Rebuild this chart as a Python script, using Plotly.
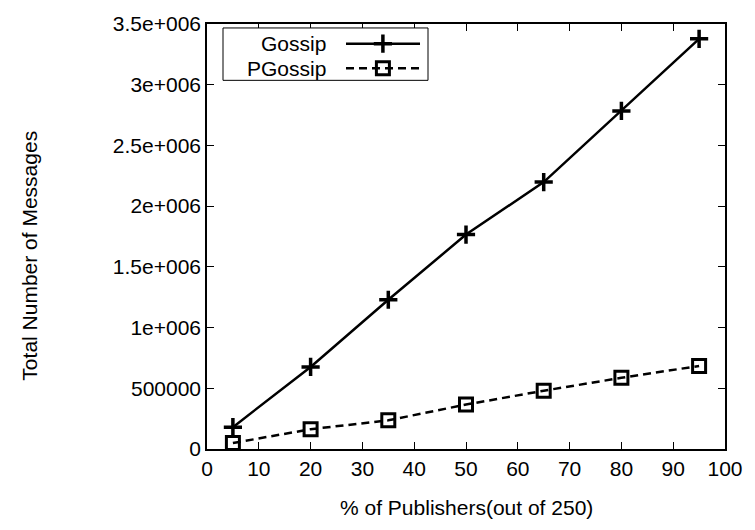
import plotly.graph_objects as go

publishers_pct = [5, 20, 35, 50, 65, 80, 95]
gossip_msgs = [180000, 676000, 1229000, 1766000, 2198000, 2784000, 3378000]
pgossip_msgs = [49000, 163000, 236000, 366000, 480000, 586000, 684000]

y_tick_vals = [0, 500000, 1000000, 1500000, 2000000, 2500000, 3000000, 3500000]
y_tick_text = ["0", "500000", "1e+006", "1.5e+006", "2e+006", "2.5e+006", "3e+006", "3.5e+006"]
x_tick_vals = [0, 10, 20, 30, 40, 50, 60, 70, 80, 90, 100]

series_names = ["Gossip", "PGossip"]

W, H = 755, 530
L, R, T, B = 207, 30, 19, 81
FONT = "Liberation Sans, Arial, Helvetica, sans-serif"
FS = 21

fig = go.Figure()

fig.add_trace(go.Scatter(
    x=publishers_pct, y=gossip_msgs, mode="lines+markers", name=series_names[0],
    line=dict(color="black", width=2.5),
    marker=dict(symbol="cross-thin", size=13, line=dict(color="black", width=3.5)),
    showlegend=False,
))
fig.add_trace(go.Scatter(
    x=publishers_pct, y=pgossip_msgs, mode="lines+markers", name=series_names[1],
    line=dict(color="black", width=2.5, dash="8px,5px"),
    marker=dict(symbol="square-open", size=13, color="black", line=dict(color="black", width=3)),
    showlegend=False,
))

# custom gnuplot-style legend (text left, sample right) on a helper axis
pw = W - L - R
ph = H - T - B
lx0, lx1, ly0, ly1 = 223, 428, 23, 76
xd = [(lx0 - L) / pw, (lx1 - L) / pw]
yd = [(H - B - ly1) / ph, (H - B - ly0) / ph]
leg_y = [0.70, 0.23]
fig.add_trace(go.Scatter(x=[0.6, 0.961], y=[leg_y[0]] * 2, xaxis="x2", yaxis="y2", mode="lines",
                         line=dict(color="black", width=2.5), showlegend=False, hoverinfo="skip"))
fig.add_trace(go.Scatter(x=[0.78], y=[leg_y[0]], xaxis="x2", yaxis="y2", mode="markers",
                         marker=dict(symbol="cross-thin", size=13, line=dict(color="black", width=3.5)),
                         showlegend=False, hoverinfo="skip"))
fig.add_trace(go.Scatter(x=[0.6, 0.961], y=[leg_y[1]] * 2, xaxis="x2", yaxis="y2", mode="lines",
                         line=dict(color="black", width=2.5, dash="8px,5px"), showlegend=False, hoverinfo="skip"))
fig.add_trace(go.Scatter(x=[0.78], y=[leg_y[1]], xaxis="x2", yaxis="y2", mode="markers",
                         marker=dict(symbol="square-open", size=13, color="black", line=dict(color="black", width=3)),
                         showlegend=False, hoverinfo="skip"))

annotations = []
for name, yy in zip(series_names, leg_y):
    annotations.append(dict(x=0.512, y=yy, xref="x2", yref="y2", text=name, showarrow=False,
                            xanchor="right", yanchor="middle", font=dict(family=FONT, size=FS, color="black")))

annotations.append(dict(x=0.5, y=-(508 - (H - B)) / ph, xref="paper", yref="paper",
                        text="% of Publishers(out of 250)", showarrow=False,
                        xanchor="center", yanchor="middle", font=dict(family=FONT, size=FS, color="black")))
annotations.append(dict(x=-(L - 30) / pw, y=0.455, xref="paper", yref="paper",
                        text="Total Number of Messages", showarrow=False, textangle=-90,
                        xanchor="center", yanchor="middle", font=dict(family=FONT, size=FS, color="black")))

shapes = [dict(type="rect", xref="paper", yref="paper", x0=xd[0], x1=xd[1], y0=yd[0], y1=yd[1],
               line=dict(color="black", width=1), fillcolor="rgba(0,0,0,0)")]

fig.update_layout(
    width=W, height=H,
    margin=dict(l=L, r=R, t=T, b=B),
    paper_bgcolor="white", plot_bgcolor="white",
    font=dict(family=FONT, size=FS, color="black"),
    xaxis=dict(range=[0, 100], tickvals=x_tick_vals, ticks="inside", ticklen=7, tickwidth=1,
               tickcolor="black", showline=True, linecolor="black", linewidth=1.5, mirror="ticks",
               showgrid=False, zeroline=False, tickfont=dict(family=FONT, size=FS)),
    yaxis=dict(range=[0, 3500000], tickvals=y_tick_vals, ticktext=y_tick_text, ticks="inside",
               ticklen=7, tickwidth=1, tickcolor="black", showline=True, linecolor="black",
               linewidth=1.5, mirror="ticks", showgrid=False, zeroline=False,
               tickfont=dict(family=FONT, size=FS)),
    xaxis2=dict(domain=xd, range=[0, 1], visible=False, anchor="y2"),
    yaxis2=dict(domain=yd, range=[0, 1], visible=False, anchor="x2"),
    annotations=annotations,
    shapes=shapes,
)

fig.write_html("out.html")
